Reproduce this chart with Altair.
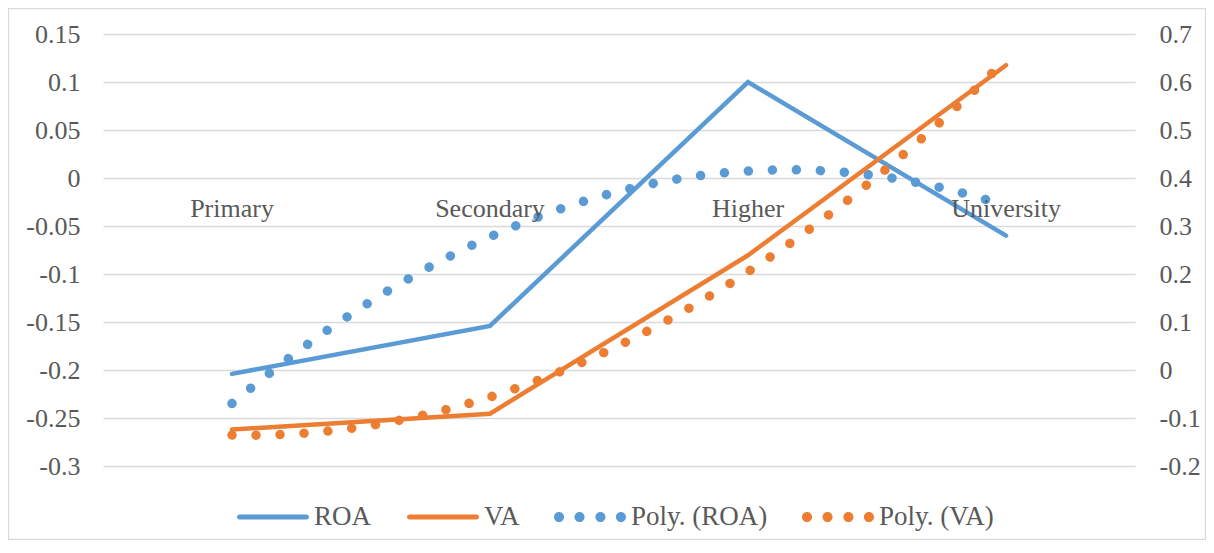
import altair as alt
import pandas as pd

# ---- data ----
categories = ["Primary", "Secondary", "Higher", "University"]
positions = [1, 2, 3, 4]
roa = [-0.204, -0.154, 0.100, -0.060]
va = [-0.124, -0.091, 0.239, 0.635]
series_names = ["ROA", "VA", "Poly. (ROA)", "Poly. (VA)"]
left_ticks = [-0.3, -0.25, -0.2, -0.15, -0.1, -0.05, 0, 0.05, 0.1, 0.15]
right_ticks = [-0.2, -0.1, 0, 0.1, 0.2, 0.3, 0.4, 0.5, 0.6, 0.7]

df = pd.DataFrame({"cat": categories, "idx": positions, "roa": roa, "va": va})
legend_df = pd.DataFrame({"series": series_names})

BLUE = "#5b9bd5"
ORANGE = "#ed7d31"
TEXT = "#595959"
GRID = "#d9d9d9"
FONT = "Liberation Serif"
FS = 26
LFS = 27

W, H = 1032, 432

x_enc = alt.X("idx:Q", scale=alt.Scale(domain=[0.5, 4.5], nice=False, zero=False), axis=None)
label_expr = "datum.value < 0 ? '-' + format(-datum.value, '.2~f') : format(datum.value, '.2~f')"

y_left_scale = alt.Scale(domain=[-0.3, 0.15], nice=False, zero=False)
y_right_scale = alt.Scale(domain=[-0.2, 0.7], nice=False, zero=False)

left_axis = alt.Axis(orient="left", values=left_ticks, grid=True, gridColor=GRID, gridWidth=1.3,
                     ticks=False, tickSize=0, domain=False, labelPadding=23, labelExpr=label_expr,
                     labelFont=FONT, labelFontSize=FS, labelColor=TEXT, title=None)
right_axis = alt.Axis(orient="right", values=right_ticks, grid=False,
                      ticks=False, tickSize=0, domain=False, labelPadding=24, labelExpr=label_expr,
                      labelFont=FONT, labelFontSize=FS, labelColor=TEXT, title=None)

no_view = alt.ViewBackground(stroke="transparent", strokeWidth=0, strokeOpacity=0)

base = alt.Chart(df)

# frame around the chart area (decorative)
frame = alt.Chart(legend_df.head(1)).mark_rect(fillOpacity=0, stroke=GRID, strokeWidth=1.3).encode(
    x=alt.value(-94.5), x2=alt.value(W + 70.5), y=alt.value(-25.5), y2=alt.value(H + 73.5)
)

roa_line = base.mark_line(color=BLUE, strokeWidth=4.5, strokeCap="round", strokeJoin="miter").encode(
    x=x_enc, y=alt.Y("roa:Q", scale=y_left_scale, axis=left_axis)
)
roa_poly = base.transform_regression("idx", "roa", method="poly", order=2, extent=[1, 4]).mark_line(
    color=BLUE, strokeWidth=9.5, strokeCap="round", strokeDash=[0.01, 24]
).encode(x=x_enc, y=alt.Y("roa:Q", scale=y_left_scale, axis=left_axis))

cat_text = base.mark_text(font=FONT, fontSize=FS, color=TEXT, align="center",
                          baseline="alphabetic", dy=39).encode(
    x=x_enc, y=alt.YDatum(0, type="quantitative", scale=y_left_scale, axis=left_axis), text="cat:N"
)

line_path = ("M-0.93,-0.07 L0.93,-0.07 A0.07,0.07 0 0 1 0.93,0.07 L-0.93,0.07 "
             "A0.07,0.07 0 0 1 -0.93,-0.07 Z")
def circ(cx, r=0.14):
    return f"M{cx - r},0 A{r},{r} 0 1 0 {cx + r},0 A{r},{r} 0 1 0 {cx - r},0 Z "
dots_path = circ(-0.86) + circ(-0.29) + circ(0.29) + circ(0.86)

# legend carrier: no marks drawn (filtered out), legend built from explicit scale domains
legend_layer = alt.Chart(legend_df).transform_filter("false").mark_point(
    filled=True, strokeWidth=0, opacity=1
).encode(
    x=alt.value(0), y=alt.value(0),
    color=alt.Color("series:N", scale=alt.Scale(domain=series_names, range=[BLUE, ORANGE, BLUE, ORANGE]),
                    legend=alt.Legend(orient="none", legendX=134, legendY=447, direction="horizontal",
                                      title=None, symbolSize=5184, symbolOpacity=1, symbolStrokeWidth=0,
                                      labelFont=FONT, labelFontSize=LFS, labelColor=TEXT, labelOffset=5,
                                      columnPadding=34, labelLimit=400, padding=0)),
    shape=alt.Shape("series:N", scale=alt.Scale(domain=series_names,
                                                range=[line_path, line_path, dots_path, dots_path]))
)

va_line = base.mark_line(color=ORANGE, strokeWidth=4.5, strokeCap="round", strokeJoin="miter").encode(
    x=x_enc, y=alt.Y("va:Q", scale=y_right_scale, axis=right_axis)
)
va_poly = base.transform_regression("idx", "va", method="poly", order=2, extent=[1, 4]).mark_line(
    color=ORANGE, strokeWidth=9.5, strokeCap="round", strokeDash=[0.01, 24]
).encode(x=x_enc, y=alt.Y("va:Q", scale=y_right_scale, axis=right_axis))

left = alt.layer(frame, roa_line, roa_poly, cat_text, legend_layer)
right = alt.layer(va_line, va_poly)

chart = alt.layer(left, right).resolve_scale(y="independent", color="shared", shape="shared").properties(
    width=W, height=H,
    view=no_view,
    autosize=alt.AutoSizeParams(type="none"),
    padding={"left": 95, "top": 26, "right": 71, "bottom": 74},
).configure_view(stroke="transparent", strokeWidth=0, strokeOpacity=0).configure_axis(
    domain=False, domainOpacity=0, domainWidth=0
).configure(background="white")

chart.save("out.html", embed_options={"renderer": "svg", "actions": False})
